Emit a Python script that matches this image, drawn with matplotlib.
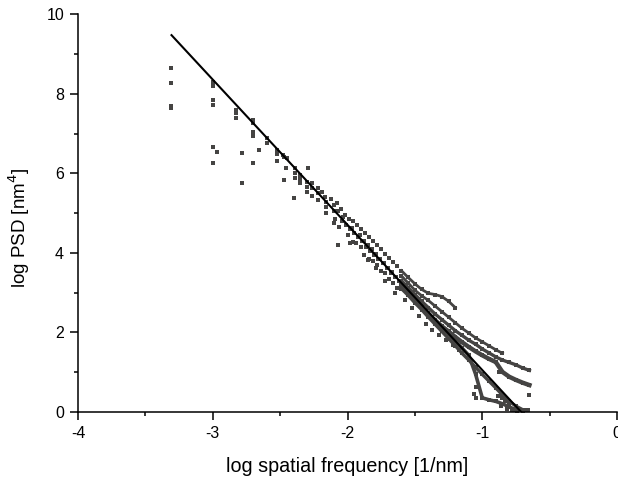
import numpy as np
import matplotlib
matplotlib.use("Agg")
import matplotlib.pyplot as plt
from matplotlib.ticker import MultipleLocator

plt.rcParams['font.family'] = ['Liberation Sans', 'DejaVu Sans']
plt.rcParams['axes.unicode_minus'] = False

# first frequency bins of the scans (sparse points)
low_x = [-3.31, -3.31, -3.31, -3.31,
         -3.00, -3.00, -3.00, -3.00, -3.00, -3.00, -2.97,
         -2.83, -2.83, -2.83, -2.78, -2.78,
         -2.70, -2.70, -2.70, -2.70, -2.70, -2.66, -2.60, -2.60,
         -2.52, -2.52, -2.52, -2.48, -2.47, -2.45, -2.46, -2.47,
         -2.39, -2.39, -2.39, -2.40, -2.35, -2.35, -2.35, -2.29,
         -2.30, -2.30, -2.30, -2.26, -2.26, -2.26, -2.22, -2.22, -2.22,
         -2.19, -2.17, -2.16, -2.16, -2.16, -2.12, -2.10, -2.10, -2.10, -2.07]
low_y = [8.65, 8.28, 7.70, 7.64,
         8.31, 8.19, 7.84, 7.72, 6.66, 6.27, 6.55,
         7.60, 7.52, 7.39, 6.51, 5.75,
         7.35, 7.26, 7.05, 6.93, 6.26, 6.59, 6.89, 6.76,
         6.59, 6.50, 6.30, 6.47, 6.42, 6.39, 6.13, 5.84,
         6.13, 6.02, 5.89, 5.39, 5.96, 5.85, 5.75, 6.13,
         5.79, 5.66, 5.54, 5.76, 5.62, 5.42, 5.63, 5.50, 5.33,
         5.53, 5.40, 5.28, 5.16, 5.00, 5.35, 5.20, 5.05, 4.74, 4.20]

# middle part of the cloud
mid_x = [-2.08, -2.07, -2.09, -2.05, -2.04, -2.06, -2.02, -2.01, -2.03,
         -1.99, -1.98, -2.00, -1.96, -1.95, -1.97, -1.96, -1.93, -1.92, -1.94,
         -1.90, -1.89, -1.91, -1.90, -1.87, -1.86, -1.88,
         -1.84, -1.83, -1.85, -1.84, -1.81, -1.80, -1.82, -1.81,
         -1.78, -1.77, -1.79, -1.78, -1.75, -1.74, -1.76, -1.75,
         -1.72, -1.71, -1.73, -1.72, -1.69, -1.68, -1.70, -1.69,
         -1.66, -1.65, -1.67, -1.66, -1.63, -1.62, -1.64, -1.63,
         -1.98, -1.88, -1.85, -1.79, -1.72, -1.65]
mid_y = [5.25, 5.05, 4.85, 5.10, 4.80, 4.65, 4.95, 4.70, 4.90,
         4.85, 4.60, 4.45, 4.80, 4.50, 4.62, 4.28, 4.70, 4.40, 4.25,
         4.60, 4.30, 4.45, 4.15, 4.50, 4.15, 4.30,
         4.40, 4.05, 4.20, 3.85, 4.30, 3.95, 4.10, 3.80,
         4.20, 3.85, 3.98, 3.70, 4.10, 3.75, 3.85, 3.55,
         3.98, 3.62, 3.75, 3.48, 3.88, 3.50, 3.62, 3.35,
         3.78, 3.40, 3.52, 3.25, 3.68, 3.30, 3.40, 3.12,
         4.25, 3.95, 3.82, 3.61, 3.30, 3.00]

# high-frequency ends of the individual curves
tail_x = [-1.60, -1.55, -1.50, -1.45, -1.40, -1.35, -1.30, -1.25, -1.20, -1.15,
          -1.10, -1.05, -1.00, -0.95, -0.90, -0.85, -0.80, -0.75, -0.70, -0.65]
nan = np.nan
curve_a = [3.55, 3.38, 3.22, 3.08, 2.98, 2.95, 2.90, 2.78, 2.62, nan,
           nan, nan, nan, nan, nan, nan, nan, nan, nan, nan]
curve_b = [3.42, 3.24, 3.06, 2.92, 2.80, 2.66, 2.52, 2.38, 2.24, 2.10,
           1.98, 1.86, 1.76, 1.66, 1.56, 1.47, nan, nan, nan, nan]
curve_c = [3.30, 3.12, 2.95, 2.78, 2.62, 2.46, 2.32, 2.18, 2.04, 1.92,
           1.80, 1.70, 1.58, 1.48, 1.38, 1.30, 1.24, 1.18, 1.10, 1.04]
curve_d = [3.15, 2.98, 2.80, 2.63, 2.46, 2.30, 2.15, 2.02, 1.88, 1.75,
           1.63, 1.52, 1.42, 1.33, 1.25, 1.00, 0.88, 0.80, 0.73, 0.67]
curve_e = [3.20, 3.02, 2.84, 2.66, 2.48, 2.30, 2.12, 1.95, 1.77, 1.60,
           1.42, 0.95, 0.35, 0.30, 0.26, 0.20, 0.12, 0.05, nan, nan]
curve_f = [3.10, 2.93, 2.74, 2.57, 2.38, 2.20, 2.02, 1.84, 1.66, 1.47,
           1.30, 1.12, 0.94, 0.77, 0.60, 0.42, 0.26, 0.14, 0.05, nan]

# loose points below the line and near the axis
extra_x = [-1.57, -1.52, -1.47, -1.42, -1.37, -1.32, -1.27, -1.22, -1.17,
           -1.047, -1.047, -1.06, -0.874, -0.652,
           -0.88, -0.85, -0.83, -0.80, -0.86, -0.82, -0.78, -0.74, -0.70, -0.68, -0.66]
extra_y = [2.82, 2.62, 2.42, 2.20, 2.06, 1.92, 1.80, 1.68, 1.55,
           0.63, 0.34, 0.45, 1.01, 0.42,
           0.40, 0.35, 0.28, 0.22, 0.15, 0.08, 0.05, 0.02, 0.03, 0.05, 0.04]

# linear fit
fit_x = [-3.306, -0.713]
fit_y = [9.48, 0.0]

pt_color = '#454443'

fig = plt.figure(figsize=(6.18, 4.78), dpi=100)
ax = fig.add_axes([0.1262, 0.1387, 0.8722, 0.8310])

ax.plot(low_x, low_y, 's', color=pt_color, ms=2.2, mew=0)
ax.plot(mid_x, mid_y, 's', color=pt_color, ms=2.2, mew=0)
for cy, lw in [(curve_a, 2.0), (curve_b, 2.0), (curve_c, 2.4),
               (curve_d, 3.2), (curve_e, 2.6), (curve_f, 2.4)]:
    ax.plot(tail_x, cy, '-s', color=pt_color, lw=lw, ms=2.2, mew=0)
ax.plot(extra_x, extra_y, 's', color=pt_color, ms=2.4, mew=0)

ax.plot(fit_x, fit_y, '-', color='black', lw=1.5)

ax.set_xlim(-4, 0)
ax.set_ylim(0, 10)
ax.xaxis.set_major_locator(MultipleLocator(1))
ax.xaxis.set_minor_locator(MultipleLocator(0.5))
ax.yaxis.set_major_locator(MultipleLocator(2))
ax.yaxis.set_minor_locator(MultipleLocator(1))

for s in ['top', 'right']:
    ax.spines[s].set_visible(False)
for s in ['left', 'bottom']:
    ax.spines[s].set_linewidth(1.1)
ax.tick_params(which='major', direction='out', length=6, width=1.1, labelsize=11.5, pad=4)
ax.tick_params(which='minor', direction='out', length=3, width=1.1)

ax.set_xlabel('log spatial frequency [1/nm]', fontsize=14.2, labelpad=12)
ax.set_ylabel('log PSD [nm$^4$]', fontsize=13.5)
ax.yaxis.set_label_coords(-0.085, 0.463)

fig.savefig('out.png', dpi=100)
